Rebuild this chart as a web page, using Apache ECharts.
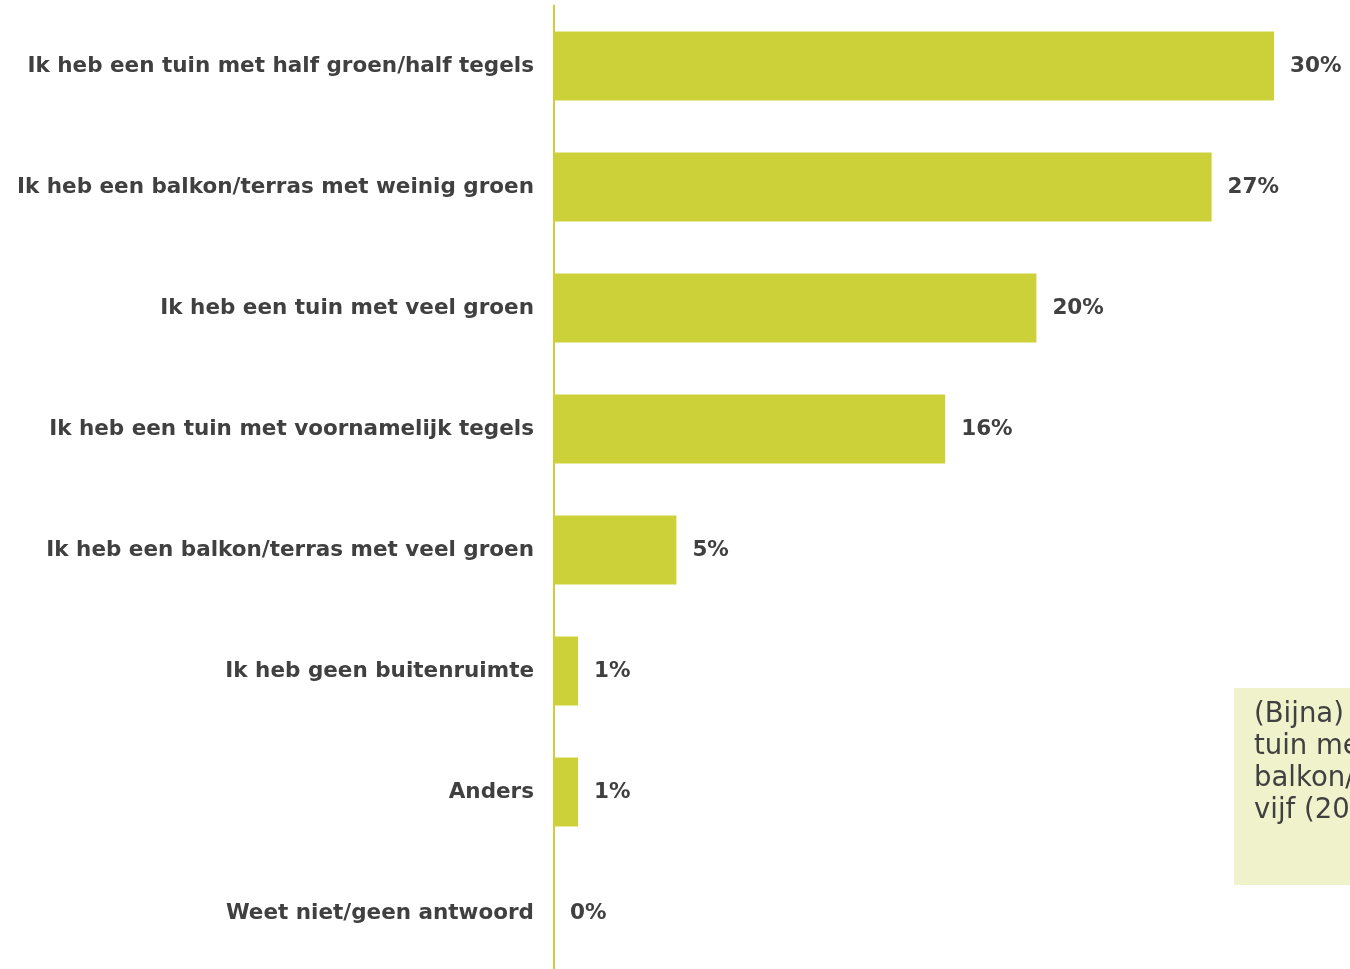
<!DOCTYPE html>
<html><head><meta charset="utf-8">
<script src="https://cdn.jsdelivr.net/npm/echarts@6/dist/echarts.min.js"></script>
<style>html,body{margin:0;padding:0;background:#fff;overflow:hidden;height:969px}#c{width:1350px;height:975px}</style>
</head><body><div id="c"></div>
<script>
const categories = [
  'Ik heb een tuin met half groen/half tegels',
  'Ik heb een balkon/terras met weinig groen',
  'Ik heb een tuin met veel groen',
  'Ik heb een tuin met voornamelijk tegels',
  'Ik heb een balkon/terras met veel groen',
  'Ik heb geen buitenruimte',
  'Anders',
  'Weet niet/geen antwoord'
];
const values = [30.0, 27.4, 20.1, 16.3, 5.1, 1.0, 1.0, 0.0];
const valueLabels = ['30%', '27%', '20%', '16%', '5%', '1%', '1%', '0%'];
const noteLines = ['(Bijna) de', 'tuin met', 'balkon/terras', 'vijf (20%)'];

const chart = echarts.init(document.getElementById('c'), null, {renderer: 'canvas'});
const font = 'DejaVu Sans, Verdana, sans-serif';
chart.setOption({
  animation: false,
  grid: {left: 554, top: 5.5, right: 76, height: 968, containLabel: false},
  xAxis: {type: 'value', min: 0, max: 30, show: false},
  yAxis: {
    type: 'category', data: categories, inverse: true,
    axisLine: {show: true, lineStyle: {color: '#cdd139', width: 2}},
    axisTick: {show: false},
    axisLabel: {color: '#404040', fontFamily: font, fontWeight: 'bold', fontSize: 21.5, margin: 20}
  },
  series: [{
    type: 'bar', data: values, barWidth: 69,
    itemStyle: {color: '#cdd139'},
    label: {
      show: true, position: 'right', distance: 16,
      color: '#404040', fontFamily: font, fontWeight: 'bold', fontSize: 21.5,
      formatter: p => valueLabels[p.dataIndex]
    }
  }],
  graphic: [
    {type: 'rect', left: 1234, top: 688, shape: {width: 200, height: 197}, style: {fill: '#f0f2cc'}},
    {type: 'text', left: 1254, top: 699, style: {
      text: noteLines.join('\n'), fill: '#404040', font: '27.5px ' + font, lineHeight: 32
    }}
  ]
});
</script></body></html>
